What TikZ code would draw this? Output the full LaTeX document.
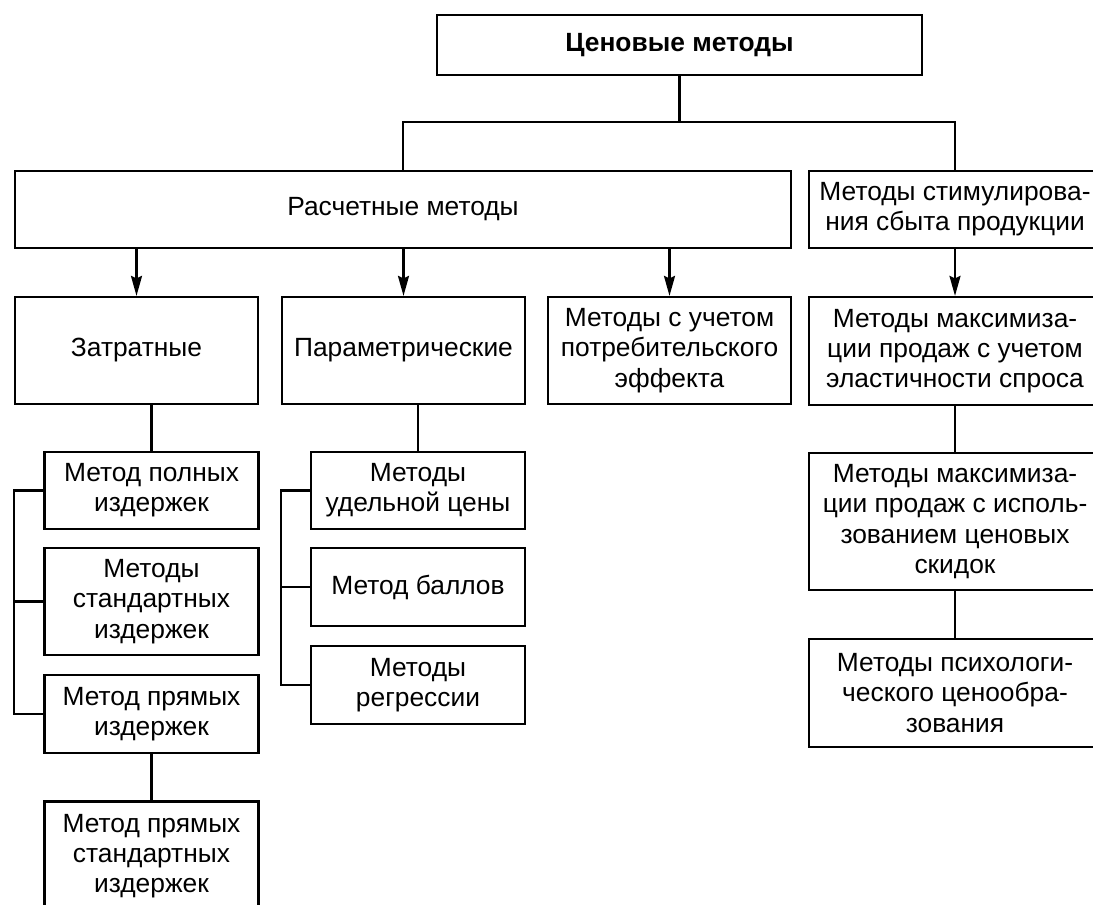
\documentclass[tikz,border=0pt]{standalone}
\usepackage{fontspec}
\setmainfont{Liberation Sans}
\usetikzlibrary{arrows.meta,positioning}
\tikzset{
  blk/.style={draw, rectangle, line width=1.3pt, align=center, inner sep=2pt,
    font=\fontsize{15}{17.2}\selectfont},
  wblk/.style={blk, minimum width=4.86cm, minimum height=2.14cm},
  sblk/.style={blk, minimum width=4.28cm, minimum height=1.54cm},
  rblk/.style={blk, minimum width=5.84cm},
  lnk/.style={line width=1.3pt},
  arr/.style={-{Stealth[length=4mm, width=2.2mm, inset=0.5mm]}, line width=1.3pt},
}
\begin{document}
\begin{tikzpicture}[x=0.02cm, y=-0.02cm]

\clip (0,0) rectangle (1093,904);

\node[blk, minimum width=9.7cm, minimum height=1.2cm, font=\fontsize{15}{17.2}\selectfont\bfseries] (top) at (679.5,45) {Ценовые методы};

\node[blk, minimum width=15.52cm, minimum height=1.54cm] (calc) at (403,209.5) {Расчетные методы};
\node[rblk, minimum height=1.54cm] (stim) at (955,209.5) {Методы стимулирова-\\ния сбыта продукции};

\node[wblk] (zatr) at (136.5,350.5) {Затратные};
\node[wblk] (param) at (403.5,350.5) {Параметрические};
\node[wblk] (potreb) at (669.5,350.5) {Методы с учетом\\потребительского\\эффекта};
\node[rblk, minimum height=2.16cm] (max1) at (955,351) {Методы максимиза-\\ции продаж с учетом\\эластичности спроса};

\node[sblk] (full) at (151.5,490.5) {Метод полных\\издержек};
\node[sblk, minimum height=2.14cm] (std) at (151.5,601.5) {Методы\\стандартных\\издержек};
\node[sblk, minimum height=1.56cm] (dir) at (151.5,714) {Метод прямых\\издержек};
\node[sblk, minimum height=2.18cm] (dirstd) at (151.5,856) {Метод прямых\\стандартных\\издержек};

\node[sblk] (unit) at (418,490.5) {Методы\\удельной цены};
\node[sblk, minimum height=1.56cm] (score) at (418,587) {Метод баллов};
\node[sblk, minimum height=1.56cm] (regr) at (418,685) {Методы\\регрессии};

\node[rblk, minimum height=2.74cm] (max2) at (955,521.5) {Методы максимиза-\\ции продаж с исполь-\\зованием ценовых\\скидок};
\node[rblk, minimum height=2.16cm] (psych) at (955,693) {Методы психологи-\\ческого ценообра-\\зования};

\coordinate (bus) at (679.5,122);
\draw[lnk] (top.south) -- (bus);
\draw[lnk] (calc.north) -- (calc.north |- bus) -- (stim.north |- bus) -- (stim.north);

\draw[arr] (calc.south -| zatr.north) -- (zatr.north);
\draw[arr] (calc.south -| param.north) -- (param.north);
\draw[arr] (calc.south -| potreb.north) -- (potreb.north);
\draw[arr] (stim.south) -- (max1.north);

\draw[lnk] (zatr.south -| full.north) -- (full.north);
\draw[lnk] (full.west) -- (full.west -| zatr.west) |- (dir.west);
\draw[lnk] (std.west) -- (std.west -| zatr.west);
\draw[lnk] (dir.south) -- (dirstd.north);

\draw[lnk] (param.south -| unit.north) -- (unit.north);
\draw[lnk] (unit.west) -- (unit.west -| param.west) |- (regr.west);
\draw[lnk] (score.west) -- (score.west -| param.west);

\draw[lnk] (max1.south) -- (max2.north);
\draw[lnk] (max2.south) -- (psych.north);

\end{tikzpicture}
\end{document}
